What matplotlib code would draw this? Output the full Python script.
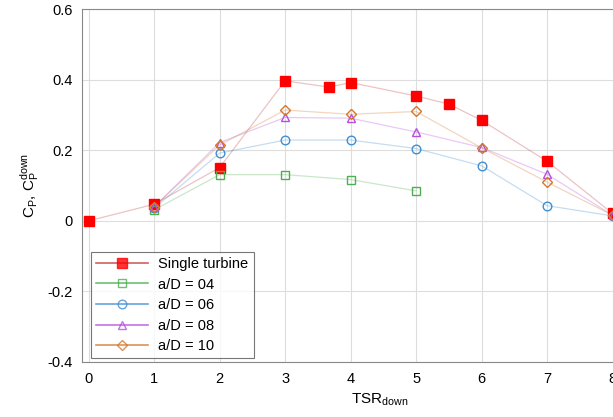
import matplotlib
matplotlib.use("Agg")
import matplotlib.pyplot as plt
from matplotlib.lines import Line2D
from matplotlib.ticker import FuncFormatter

plt.rcParams["font.family"] = ["Liberation Sans", "DejaVu Sans"]

# single turbine curve
tsr_single = [0, 1, 2, 3, 3.67, 4, 5, 5.5, 6, 7, 8]
cp_single = [0.0, 0.047, 0.151, 0.397, 0.379, 0.392, 0.354, 0.331, 0.285, 0.169, 0.021]

# downstream turbine at various spacings
tsr_04 = [1, 2, 3, 4, 5]
cp_04 = [0.031, 0.131, 0.131, 0.117, 0.085]

tsr_down = [1, 2, 3, 4, 5, 6, 7, 8]
cp_06 = [0.036, 0.192, 0.229, 0.229, 0.205, 0.156, 0.043, 0.014]
cp_08 = [0.040, 0.222, 0.293, 0.291, 0.252, 0.208, 0.132, 0.016]
cp_10 = [0.040, 0.215, 0.314, 0.302, 0.310, 0.207, 0.110, 0.016]

labels = ["Single turbine", "a/D = 04", "a/D = 06", "a/D = 08", "a/D = 10"]
colors = ["#ff0000", "#4caf50", "#3f8fd2", "#b84ee0", "#d2782f"]
line_colors = ["#c0393b", "#4caf50", "#3f8fd2", "#b84ee0", "#d2782f"]

fig = plt.figure(figsize=(6.13, 4.17), dpi=100)
ax = fig.add_axes([0.134, 0.132, 0.972, 0.846])

series = [
    (tsr_single, cp_single, "s", 6.8, True),
    (tsr_04, cp_04, "s", 6, False),
    (tsr_down, cp_06, "o", 6.2, False),
    (tsr_down, cp_08, "^", 6.2, False),
    (tsr_down, cp_10, "D", 4.8, False),
]

handles = []
for (x, y, m, ms, filled), c, lc, lab in zip(series, colors, line_colors, labels):
    ax.plot(x, y, color=lc, lw=0.9, alpha=0.3, zorder=2)
    ax.plot(x, y, ls="none", marker=m, ms=ms, mec=c, mew=1.0,
            mfc=c if filled else "none", zorder=3)
    handles.append(Line2D([], [], color=lc, lw=1.2, alpha=0.8, marker=m, ms=ms,
                          mec=c, mfc=c if filled else "none", label=lab))

ax.set_xlim(-0.1, 9.0)
ax.set_ylim(-0.4, 0.6)
ax.set_xticks(range(0, 10))
ax.set_yticks([-0.4, -0.2, 0, 0.2, 0.4, 0.6])
ax.yaxis.set_major_formatter(FuncFormatter(lambda v, p: "%g" % round(v, 2)))
ax.grid(True, color="#dddddd", lw=0.8)
ax.set_axisbelow(True)
for s in ax.spines.values():
    s.set_color("#888888")
ax.tick_params(length=0, labelsize=10.5, pad=7)

ax.set_xlabel("TSR$_{\\mathregular{down}}$", fontsize=11)
ax.set_ylabel("C$_\\mathregular{P}$, C$_\\mathregular{P}^\\mathregular{down}$", fontsize=11)

leg = ax.legend(handles=handles, loc="lower left", bbox_to_anchor=(0.008, 0.0),
                fontsize=10.5, frameon=True, fancybox=False, handlelength=3.6,
                handletextpad=0.7, borderpad=0.35, labelspacing=0.45,
                borderaxespad=0.25)
leg.get_frame().set_edgecolor("#555555")
leg.get_frame().set_linewidth(0.8)

fig.savefig("out.png", dpi=100)
